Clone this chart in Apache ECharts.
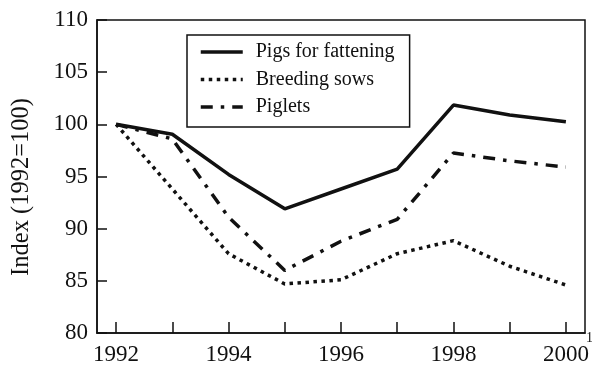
<!DOCTYPE html>
<html><head><meta charset="utf-8">
<script src="https://cdn.jsdelivr.net/npm/echarts@6/dist/echarts.min.js"></script>
<style>html,body{margin:0;padding:0;background:#fff}#c{width:592px;height:369px}</style>
</head><body><div id="c"></div>
<script>
const years = [1992, 1993, 1994, 1995, 1996, 1997, 1998, 1999, 2000];
const xTickLabels = [1992, 1994, 1996, 1998, 2000];
const pigsFattening = [100, 99.05, 95.2, 91.9, 93.8, 95.7, 101.85, 100.9, 100.25];
const breedingSows = [100, 93.8, 87.6, 84.7, 85.1, 87.6, 88.85, 86.4, 84.6];
const piglets = [100, 98.6, 91.1, 86.0, 88.8, 90.9, 97.25, 96.5, 95.9];
const seriesNames = ['Pigs for fattening', 'Breeding sows', 'Piglets'];
const yAxisTitle = 'Index (1992=100)';

const font = 'Liberation Serif';
const ink = '#111';
const pair = arr => years.map((y, i) => [y, arr[i]]);

const chart = echarts.init(document.getElementById('c'));
chart.setOption({
  animation: false,
  backgroundColor: '#fff',
  grid: { left: 97, right: 7, top: 20, bottom: 36, show: true, borderColor: ink, borderWidth: 1.5 },
  legend: {
    left: 187, top: 35,
    orient: 'vertical',
    itemWidth: 42, itemHeight: 14, itemGap: 7.5,
    padding: [7, 15, 10, 12],
    borderColor: ink, borderWidth: 1.5,
    itemStyle: { color: 'rgba(0,0,0,0)', borderWidth: 0, opacity: 0 },
    lineStyle: { width: 3.5 },
    textStyle: { fontFamily: font, fontSize: 20, color: ink, padding: [0, 0, 0, 8] },
    data: seriesNames
  },
  xAxis: {
    type: 'value', min: 1991.66, max: 2000.34,
    axisLine: { lineStyle: { color: ink, width: 1.5 } },
    axisTick: { inside: true, length: 11, customValues: years, lineStyle: { color: ink, width: 1.5 } },
    axisLabel: { customValues: xTickLabels, formatter: v => String(v), fontFamily: font, fontSize: 23, color: ink, margin: 10 },
    splitLine: { show: false }
  },
  yAxis: {
    type: 'value', min: 80, max: 110, interval: 5,
    axisLine: { show: true, lineStyle: { color: ink, width: 1.5 } },
    axisTick: { show: true, inside: true, length: 10, lineStyle: { color: ink, width: 1.5 } },
    axisLabel: { fontFamily: font, fontSize: 23, color: ink, margin: 9 },
    splitLine: { show: false }
  },
  graphic: [
    { type: 'text', x: 22, y: 187, rotation: Math.PI / 2,
      style: { text: yAxisTitle, fontFamily: font, fontSize: 24.5, fill: ink, align: 'center', verticalAlign: 'middle' } },
    { type: 'text', left: 586, top: 331, style: { text: '1)', fontFamily: font, fontSize: 14, fill: ink } }
  ],
  series: [
    { name: seriesNames[0], type: 'line', data: pair(pigsFattening), symbol: 'none', color: ink,
      lineStyle: { color: ink, width: 3.5, type: 'solid' } },
    { name: seriesNames[1], type: 'line', data: pair(breedingSows), symbol: 'none', color: ink,
      lineStyle: { color: ink, width: 3.5, type: [3.5, 4.5] } },
    { name: seriesNames[2], type: 'line', data: pair(piglets), symbol: 'none', color: ink,
      lineStyle: { color: ink, width: 3.5, type: [12, 8, 3.5, 8] } }
  ]
});
</script></body></html>
